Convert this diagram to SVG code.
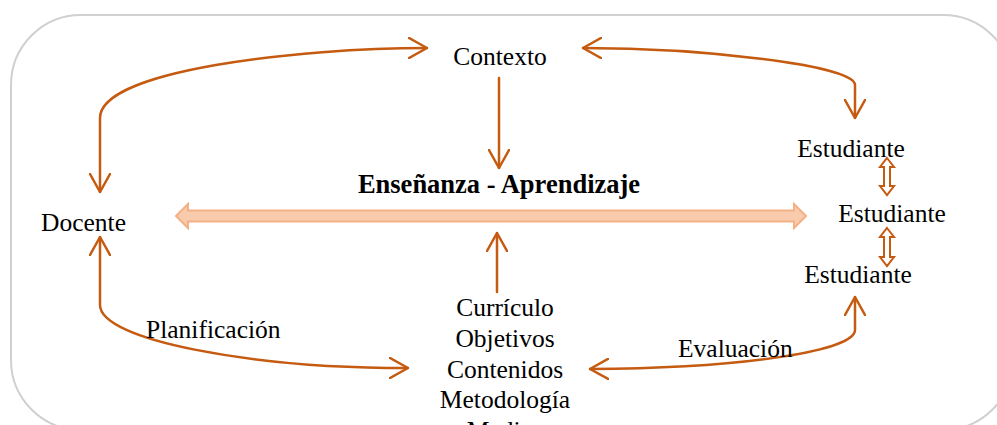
<svg xmlns="http://www.w3.org/2000/svg" width="997" height="425" viewBox="0 0 997 425">
<defs>
<style>
.t{font-family:"Liberation Serif","Times New Roman",serif;font-size:25.5px;fill:#000}
.b{font-weight:bold;font-size:26.5px}
.c{fill:none;stroke:#c55a11;stroke-width:2.5;stroke-linecap:round;stroke-linejoin:round}
.h{fill:#fff;stroke:#c55a11;stroke-width:2;stroke-linejoin:miter}
.big{fill:#f8cbad;stroke:#f4b183;stroke-width:2}
</style>
<marker id="v" viewBox="0 0 20 22" refX="19" refY="11" markerWidth="20" markerHeight="22" markerUnits="userSpaceOnUse" orient="auto-start-reverse">
<path d="M1 1 L19 11 L1 21" fill="none" stroke="#c55a11" stroke-width="2.5" stroke-linecap="round" stroke-linejoin="round"/>
</marker>
</defs>
<rect x="11" y="15" width="1002" height="415" rx="70" ry="70" fill="#fff" stroke="#d0d0d0" stroke-width="2"/>
<g id="connectors">
<path class="c" d="M427 48 C300 48 100 70 100 118 L100 192" marker-start="url(#v)" marker-end="url(#v)"/>
<path class="c" d="M583 48 C700 48 855 65 855 85 L855 118" marker-start="url(#v)" marker-end="url(#v)"/>
<path class="c" d="M499 78 L499 168" marker-end="url(#v)"/>
<path class="c" d="M497 292 L497 233" marker-end="url(#v)"/>
<path class="c" d="M100 237 L100 305 C100 340 250 368 408 368" marker-start="url(#v)" marker-end="url(#v)"/>
<path class="c" d="M590 369 C750 368 855 350 855 330 L855 297" marker-start="url(#v)" marker-end="url(#v)"/>
<polygon class="big" points="176,216 188,204 188,210.5 794,210.5 794,204 806,216 794,228 794,221.5 188,221.5 188,228"/>
<polygon class="h" points="887,158 894,167 890,167 890,186 894,186 887,195 880,186 884,186 884,167 880,167"/>
<polygon class="h" points="887,228 894,237 890,237 890,257 894,257 887,266 880,257 884,257 884,237 880,237"/>
</g>
<g id="contexto"><text class="t" x="500" y="65" text-anchor="middle">Contexto</text></g>
<g id="ensenanza"><text class="t b" x="499" y="193" text-anchor="middle">Enseñanza - Aprendizaje</text></g>
<g id="docente"><text class="t" x="41" y="231">Docente</text></g>
<g id="estudiante1"><text class="t" x="851" y="157" text-anchor="middle">Estudiante</text></g>
<g id="estudiante2"><text class="t" x="892" y="222" text-anchor="middle">Estudiante</text></g>
<g id="estudiante3"><text class="t" x="858" y="283" text-anchor="middle">Estudiante</text></g>
<g id="curriculo">
<text class="t" x="505" y="316" text-anchor="middle">Currículo</text>
<text class="t" x="505" y="347" text-anchor="middle">Objetivos</text>
<text class="t" x="505" y="378" text-anchor="middle">Contenidos</text>
<text class="t" x="505" y="408" text-anchor="middle">Metodología</text>
<text class="t" x="505" y="439" text-anchor="middle">Medios</text>
</g>
<g id="labels">
<text class="t" x="146" y="338">Planificación</text>
<text class="t" x="678" y="357">Evaluación</text>
</g>
</svg>
